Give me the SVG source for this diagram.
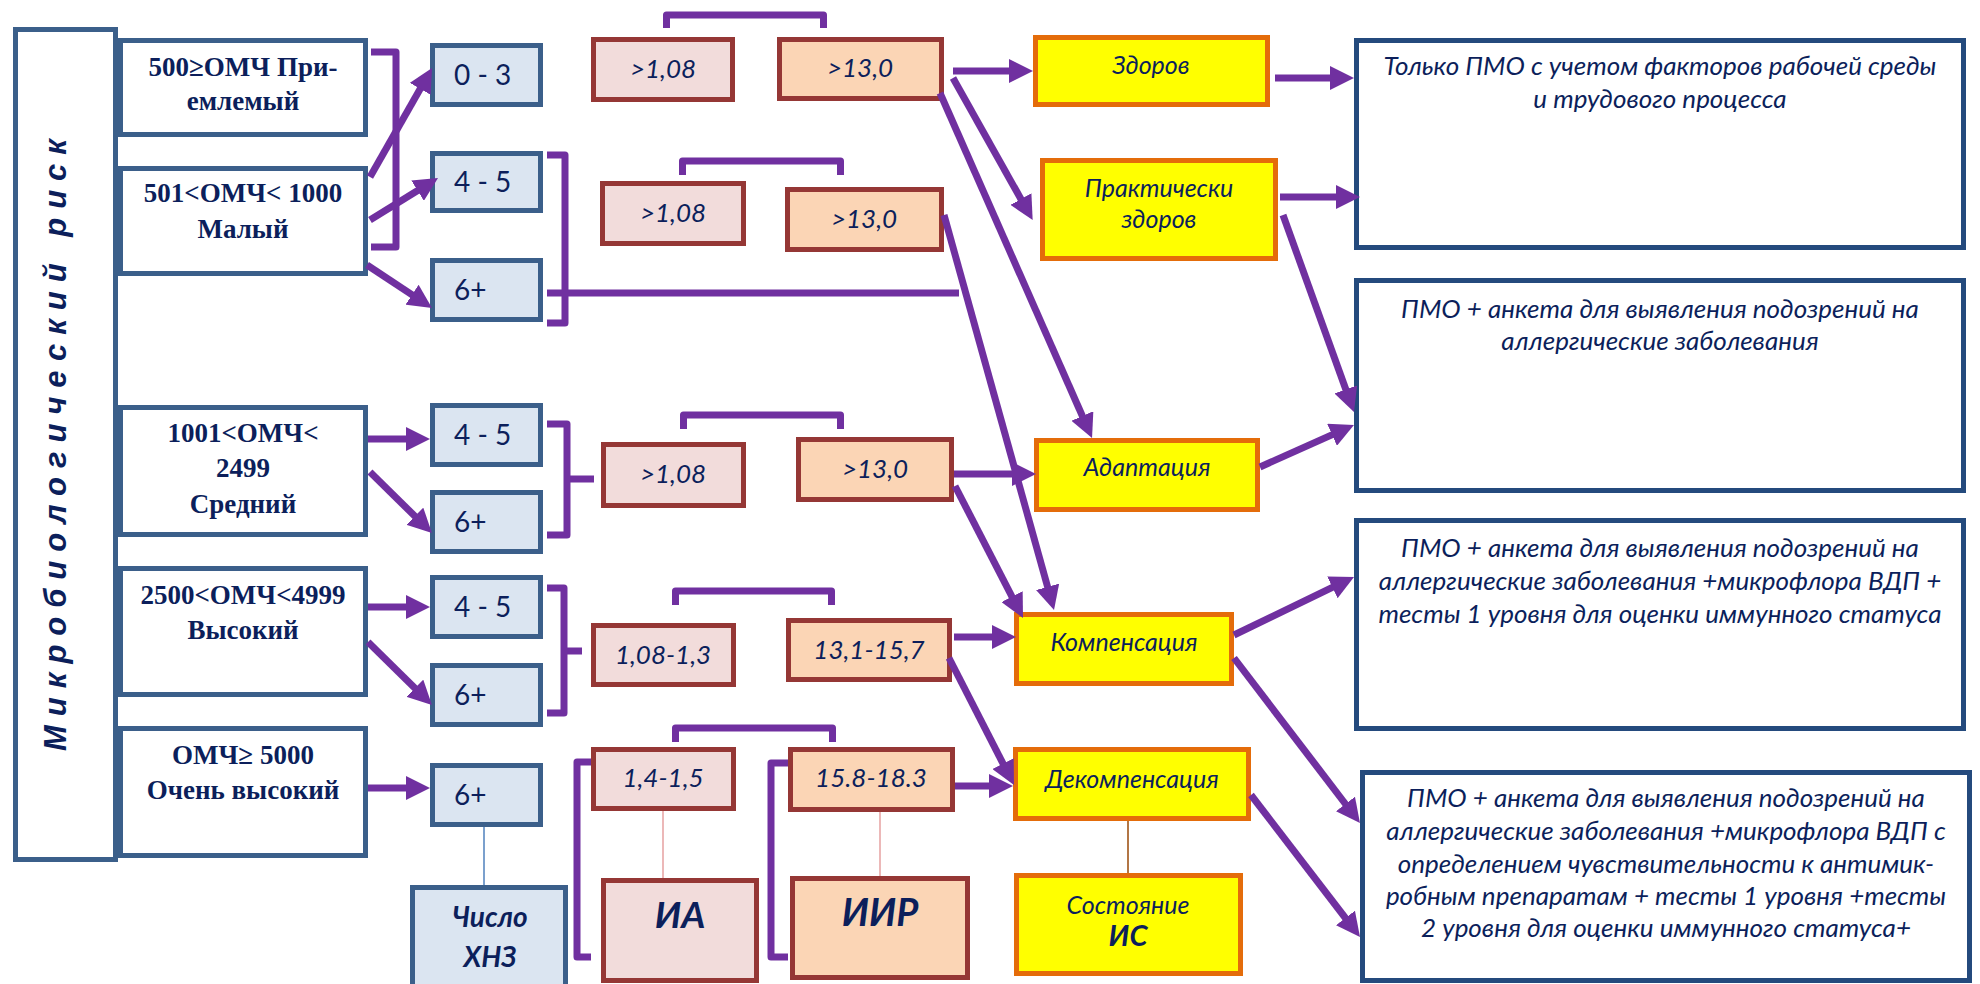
<svg xmlns="http://www.w3.org/2000/svg" width="1980" height="984" viewBox="0 0 1980 984">
<defs>
<marker id="ah" markerUnits="userSpaceOnUse" markerWidth="24" markerHeight="24" viewBox="0 0 24 24" refX="12" refY="12" orient="auto"><path d="M0,0 L24,12 L0,24 z" fill="#7030a0"/></marker>
</defs>
<style>
.wb{fill:#fff;stroke:#3b5f8a;stroke-width:5}
.bb{fill:#dbe5f1;stroke:#3b5f8a;stroke-width:5}
.pk{fill:#f2dcdb;stroke:#953735;stroke-width:5}
.pc{fill:#fbd5b5;stroke:#953735;stroke-width:5}
.yl{fill:#ffff00;stroke:#e46c0a;stroke-width:5}
.rb{fill:#fff;stroke:#244a7d;stroke-width:5}
text{fill:#0c1f5b}
.ts{font-family:"Liberation Serif",serif;font-weight:bold;font-size:27px;text-anchor:middle}
.tn{font-family:Lato,"Liberation Sans",sans-serif;font-size:28px}
.ti{font-family:Lato,"Liberation Sans",sans-serif;font-style:italic;font-size:25px;text-anchor:middle}
.tv{font-family:Lato,"Liberation Sans",sans-serif;font-style:italic;font-size:26px;text-anchor:middle}
.tr{font-family:Lato,"Liberation Sans",sans-serif;font-style:italic;font-size:26px;text-anchor:middle}
.tb{font-family:Lato,"Liberation Sans",sans-serif;font-style:italic;font-weight:bold;text-anchor:middle}
.con{fill:none;stroke:#7030a0;stroke-width:7;stroke-linejoin:round}
.arr{fill:none;stroke:#7030a0;stroke-width:7;marker-end:url(#ah)}
.thin{fill:none;stroke-width:1.5}
</style>
<rect width="1980" height="984" fill="#fff"/>

<g id="title">
<rect class="wb" x="15.5" y="29.5" width="100" height="830"/>
<text transform="translate(66,445) rotate(-90)" x="0" y="0" text-anchor="middle" textLength="612" lengthAdjust="spacing" style="font-family:'Liberation Sans',sans-serif;font-weight:bold;font-style:italic;font-size:31px">Микробиологический риск</text>
</g>

<g id="risk1"><rect class="wb" x="120.5" y="40.5" width="245" height="94"/>
<text class="ts" x="243" y="76">500≥ОМЧ При-</text><text class="ts" x="243" y="110">емлемый</text></g>
<g id="risk2"><rect class="wb" x="120.5" y="168.5" width="245" height="105"/>
<text class="ts" x="243" y="202">501&lt;ОМЧ&lt; 1000</text><text class="ts" x="243" y="238">Малый</text></g>
<g id="risk3"><rect class="wb" x="120.5" y="407.5" width="245" height="127"/>
<text class="ts" x="243" y="442">1001&lt;ОМЧ&lt;</text><text class="ts" x="243" y="477">2499</text><text class="ts" x="243" y="513">Средний</text></g>
<g id="risk4"><rect class="wb" x="120.5" y="568.5" width="245" height="126"/>
<text class="ts" x="243" y="604">2500&lt;ОМЧ&lt;4999</text><text class="ts" x="243" y="639">Высокий</text></g>
<g id="risk5"><rect class="wb" x="120.5" y="728.5" width="245" height="127"/>
<text class="ts" x="243" y="764">ОМЧ≥ 5000</text><text class="ts" x="243" y="799">Очень высокий</text></g>

<g id="n03"><rect class="bb" x="432.5" y="45.5" width="108" height="59"/><text class="tn" x="454" y="85">0 - 3</text></g>
<g id="n45a"><rect class="bb" x="432.5" y="153.5" width="108" height="57"/><text class="tn" x="454" y="192">4 - 5</text></g>
<g id="n6a"><rect class="bb" x="432.5" y="260.5" width="108" height="59"/><text class="tn" x="454" y="300">6+</text></g>
<g id="n45b"><rect class="bb" x="432.5" y="405.5" width="108" height="59"/><text class="tn" x="454" y="445">4 - 5</text></g>
<g id="n6b"><rect class="bb" x="432.5" y="492.5" width="108" height="59"/><text class="tn" x="454" y="532">6+</text></g>
<g id="n45c"><rect class="bb" x="432.5" y="577.5" width="108" height="59"/><text class="tn" x="454" y="617">4 - 5</text></g>
<g id="n6c"><rect class="bb" x="432.5" y="665.5" width="108" height="59"/><text class="tn" x="454" y="705">6+</text></g>
<g id="n6d"><rect class="bb" x="432.5" y="765.5" width="108" height="59"/><text class="tn" x="454" y="805">6+</text></g>
<g id="khnz"><rect class="bb" x="412.5" y="887.5" width="153" height="100"/>
<text class="tb" x="490" y="927" font-size="28">Число</text><text class="tb" x="490" y="967" font-size="28">ХНЗ</text></g>

<g id="ia1"><rect class="pk" x="593.5" y="39.5" width="139" height="60"/><text class="tv" x="663" y="78">&gt;1,08</text></g>
<g id="ia2"><rect class="pk" x="602.5" y="183.5" width="141" height="60"/><text class="tv" x="673" y="222">&gt;1,08</text></g>
<g id="ia3"><rect class="pk" x="603.5" y="444.5" width="140" height="61"/><text class="tv" x="673" y="483">&gt;1,08</text></g>
<g id="ia4"><rect class="pk" x="593.5" y="625.5" width="140" height="59"/><text class="tv" x="663" y="664">1,08-1,3</text></g>
<g id="ia5"><rect class="pk" x="593.5" y="749.5" width="140" height="59"/><text class="tv" x="663" y="787">1,4-1,5</text></g>
<g id="ia"><rect class="pk" x="603.5" y="880.5" width="153" height="100"/><text class="tb" x="680" y="928" font-size="37">ИА</text></g>

<g id="iir1"><rect class="pc" x="779.5" y="39.5" width="162" height="59"/><text class="tv" x="860" y="77">&gt;13,0</text></g>
<g id="iir2"><rect class="pc" x="787.5" y="189.5" width="154" height="60"/><text class="tv" x="864" y="228">&gt;13,0</text></g>
<g id="iir3"><rect class="pc" x="798.5" y="439.5" width="153" height="60"/><text class="tv" x="875" y="478">&gt;13,0</text></g>
<g id="iir4"><rect class="pc" x="788.5" y="620.5" width="161" height="59"/><text class="tv" x="869" y="659">13,1-15,7</text></g>
<g id="iir5"><rect class="pc" x="790.5" y="749.5" width="162" height="60"/><text class="tv" x="871" y="787">15.8-18.3</text></g>
<g id="iir"><rect class="pc" x="792.5" y="878.5" width="175" height="99"/><text class="tb" x="880" y="926" font-size="38">ИИР</text></g>

<g id="zdorov"><rect class="yl" x="1035.5" y="37.5" width="232" height="67"/><text class="ti" x="1151" y="74">Здоров</text></g>
<g id="prakt"><rect class="yl" x="1042.5" y="160.5" width="233" height="98"/><text class="ti" x="1159" y="197">Практически</text><text class="ti" x="1159" y="228">здоров</text></g>
<g id="adapt"><rect class="yl" x="1036.5" y="440.5" width="221" height="69"/><text class="ti" x="1147" y="476">Адаптация</text></g>
<g id="komp"><rect class="yl" x="1016.5" y="614.5" width="215" height="69"/><text class="ti" x="1124" y="651">Компенсация</text></g>
<g id="dekomp"><rect class="yl" x="1015.5" y="749.5" width="233" height="69"/><text class="ti" x="1132" y="788">Декомпенсация</text></g>
<g id="sost"><rect class="yl" x="1016.5" y="875.5" width="224" height="98"/><text class="ti" x="1128" y="914">Состояние</text><text class="tb" x="1128" y="946" font-size="29">ИС</text></g>

<g id="rec1"><rect class="rb" x="1356.5" y="40.5" width="607" height="207"/>
<text class="tr" x="1660" y="75">Только ПМО с учетом факторов рабочей среды</text>
<text class="tr" x="1660" y="108">и трудового процесса</text></g>
<g id="rec2"><rect class="rb" x="1356.5" y="280.5" width="607" height="210"/>
<text class="tr" x="1660" y="318">ПМО + анкета для выявления подозрений на</text>
<text class="tr" x="1660" y="350">аллергические заболевания</text></g>
<g id="rec3"><rect class="rb" x="1356.5" y="520.5" width="607" height="208"/>
<text class="tr" x="1660" y="557">ПМО + анкета для выявления подозрений на</text>
<text class="tr" x="1660" y="590">аллергические заболевания +микрофлора ВДП +</text>
<text class="tr" x="1660" y="623">тесты 1 уровня для оценки иммунного статуса</text></g>
<g id="rec4"><rect class="rb" x="1362.5" y="772.5" width="607" height="208"/>
<text class="tr" x="1666" y="807">ПМО + анкета для выявления подозрений на</text>
<text class="tr" x="1666" y="840">аллергические заболевания +микрофлора ВДП с</text>
<text class="tr" x="1666" y="873">определением чувствительности к антимик-</text>
<text class="tr" x="1666" y="905">робным препаратам + тесты 1 уровня +тесты</text>
<text class="tr" x="1666" y="937">2 уровня для оценки иммунного статуса+</text></g>

<g id="connectors">
<path class="con" d="M371,52 H396 V247 H371"/>
<path class="con" d="M547,155 H565 V323 H547 M547,293 H959"/>
<path class="con" d="M547,424 H567 V535 H547 M567,479 H594"/>
<path class="con" d="M547,588 H564 V713 H547 M564,651 H582"/>
<path class="con" d="M591,762 H577 V957 H591"/>
<path class="con" d="M788,763 H771 V957 H788"/>
<path class="con" d="M666.5,28 V15 H823.5 V28"/>
<path class="con" d="M682.5,175 V161 H840.5 V175"/>
<path class="con" d="M683.5,429 V415 H840.5 V429"/>
<path class="con" d="M675.5,605 V591 H831.5 V605"/>
<path class="con" d="M675.5,742 V728 H832.5 V742"/>
<path class="thin" stroke="#4f81bd" d="M484,827 V885"/>
<path class="thin" stroke="#e6a0a0" d="M663,811 V878"/>
<path class="thin" stroke="#e6a0a0" d="M880,812 V876"/>
<path class="thin" stroke="#984807" d="M1128,821 V873"/>
<path class="arr" d="M370,177 L426.1,78.4"/>
<path class="arr" d="M370,220 L427.8,184.3"/>
<path class="arr" d="M367,265 L422,301.4"/>
<path class="arr" d="M368,439 L418,439"/>
<path class="arr" d="M370,472 L423.4,524.6"/>
<path class="arr" d="M368,607 L418,607"/>
<path class="arr" d="M368,642 L423.4,696.6"/>
<path class="arr" d="M368,788 L418,788"/>
<path class="arr" d="M953,71 L1021,71"/>
<path class="arr" d="M953,78 L1026.8,209.5"/>
<path class="arr" d="M940,93 L1087.2,427"/>
<path class="arr" d="M944,215 L1050.8,598.4"/>
<path class="arr" d="M954,474 L1024,474"/>
<path class="arr" d="M955,486 L1017.5,607.3"/>
<path class="arr" d="M954,637 L1004,637"/>
<path class="arr" d="M949,658 L1008.5,774.3"/>
<path class="arr" d="M955,786 L1001,786"/>
<path class="arr" d="M1275,78 L1342,78"/>
<path class="arr" d="M1280,197 L1348,197"/>
<path class="arr" d="M1283,215 L1349.9,400.7"/>
<path class="arr" d="M1260,467 L1343,429.9"/>
<path class="arr" d="M1234,635 L1343.2,582.2"/>
<path class="arr" d="M1234,658 L1352.7,813.5"/>
<path class="arr" d="M1251,795 L1352.7,927.5"/>
</g>
</svg>
